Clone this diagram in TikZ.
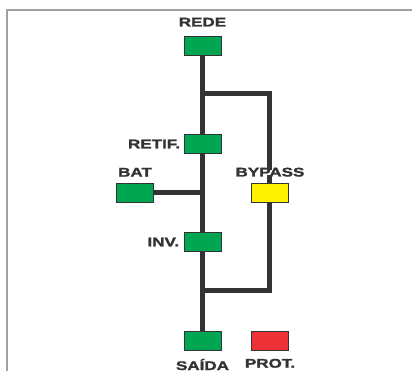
\documentclass[tikz,border=0pt]{standalone}
\usepackage{fontspec}
\newfontfamily\tagfont[FakeStretch=1.36,BoldFeatures={FakeBold=1.8}]{Liberation Sans}
\usetikzlibrary{positioning}

\definecolor{boxgreen}{RGB}{0,166,81}
\definecolor{boxyellow}{RGB}{255,242,0}
\definecolor{boxred}{RGB}{237,50,55}
\definecolor{wiregray}{RGB}{51,51,51}
\definecolor{framegray}{RGB}{160,160,160}

\tikzset{every picture/.style={line width=0.75pt}}
\tikzset{
  lamp/.style={draw=wiregray, line width=0.6pt, minimum width=27.75pt, minimum height=14.25pt, inner sep=0pt},
  tag/.style={inner sep=0pt, text=wiregray, font=\tagfont\bfseries\fontsize{9.4}{10}\selectfont},
  wire/.style={draw=wiregray, line width=3.75pt, line join=miter}
}

\begin{document}
\begin{tikzpicture}[x=0.75pt,y=0.75pt,yscale=-1,xscale=1]
	\useasboundingbox (0,0) rectangle (412,371);

	%Frame
	\draw [color=framegray, line width=0.9pt] (7,371) -- (7,10) -- (412,10) ;

	%Shape: Rectangles
	\node [lamp, fill=boxgreen] (rede) at (202.5,45.5) {};
	\node [lamp, fill=boxgreen] (retif) at (202.5,144) {};
	\node [lamp, fill=boxgreen] (bat) at (135,193) {};
	\node [lamp, fill=boxyellow] (bypass) at (270,193) {};
	\node [lamp, fill=boxgreen] (inv) at (202.5,242) {};
	\node [lamp, fill=boxgreen] (saida) at (202.5,340.5) {};
	\node [lamp, fill=boxred] (prot) at (270,340.5) {};

	% Text Node
	\node [tag, above=6.5pt of rede] (rede label) {REDE};
	% Text Node
	\node [tag, left=2.25pt of retif] (retif label) {RETIF.};
	% Text Node
	\node [tag, above=4.5pt of bat] (bat label) {BAT};
	% Text Node
	\node [tag, above=4.5pt of bypass] (bypass label) {BYPASS};
	% Text Node
	\node [tag, left=3pt of inv] (inv label) {INV.};
	% Text Node
	\node [tag, below=6pt of saida] (saida label) {SAÍDA};
	% Text Node
	\node [tag, below=6pt of prot] (prot label) {PROT.};

	\coordinate (tap) at (202.5,94);
	\coordinate (join) at (202.5,291);

	%Straight Lines
	\draw [wire] (rede.south) -- (retif.north) ;
	\draw [wire] (retif.south) -- (inv.north) ;
	\draw [wire] (inv.south) -- (saida.north) ;
	\draw [wire] (bat.east) -- (bat -| rede) ;
	\draw [wire] (tap) -| ([yshift=2.25pt]bypass label.north) ;
	\draw [wire] ([yshift=-1.5pt]bypass label.south) -- (bypass.north) ;
	\draw [wire] (bypass.south) |- (join) ;

\end{tikzpicture}
\end{document}
